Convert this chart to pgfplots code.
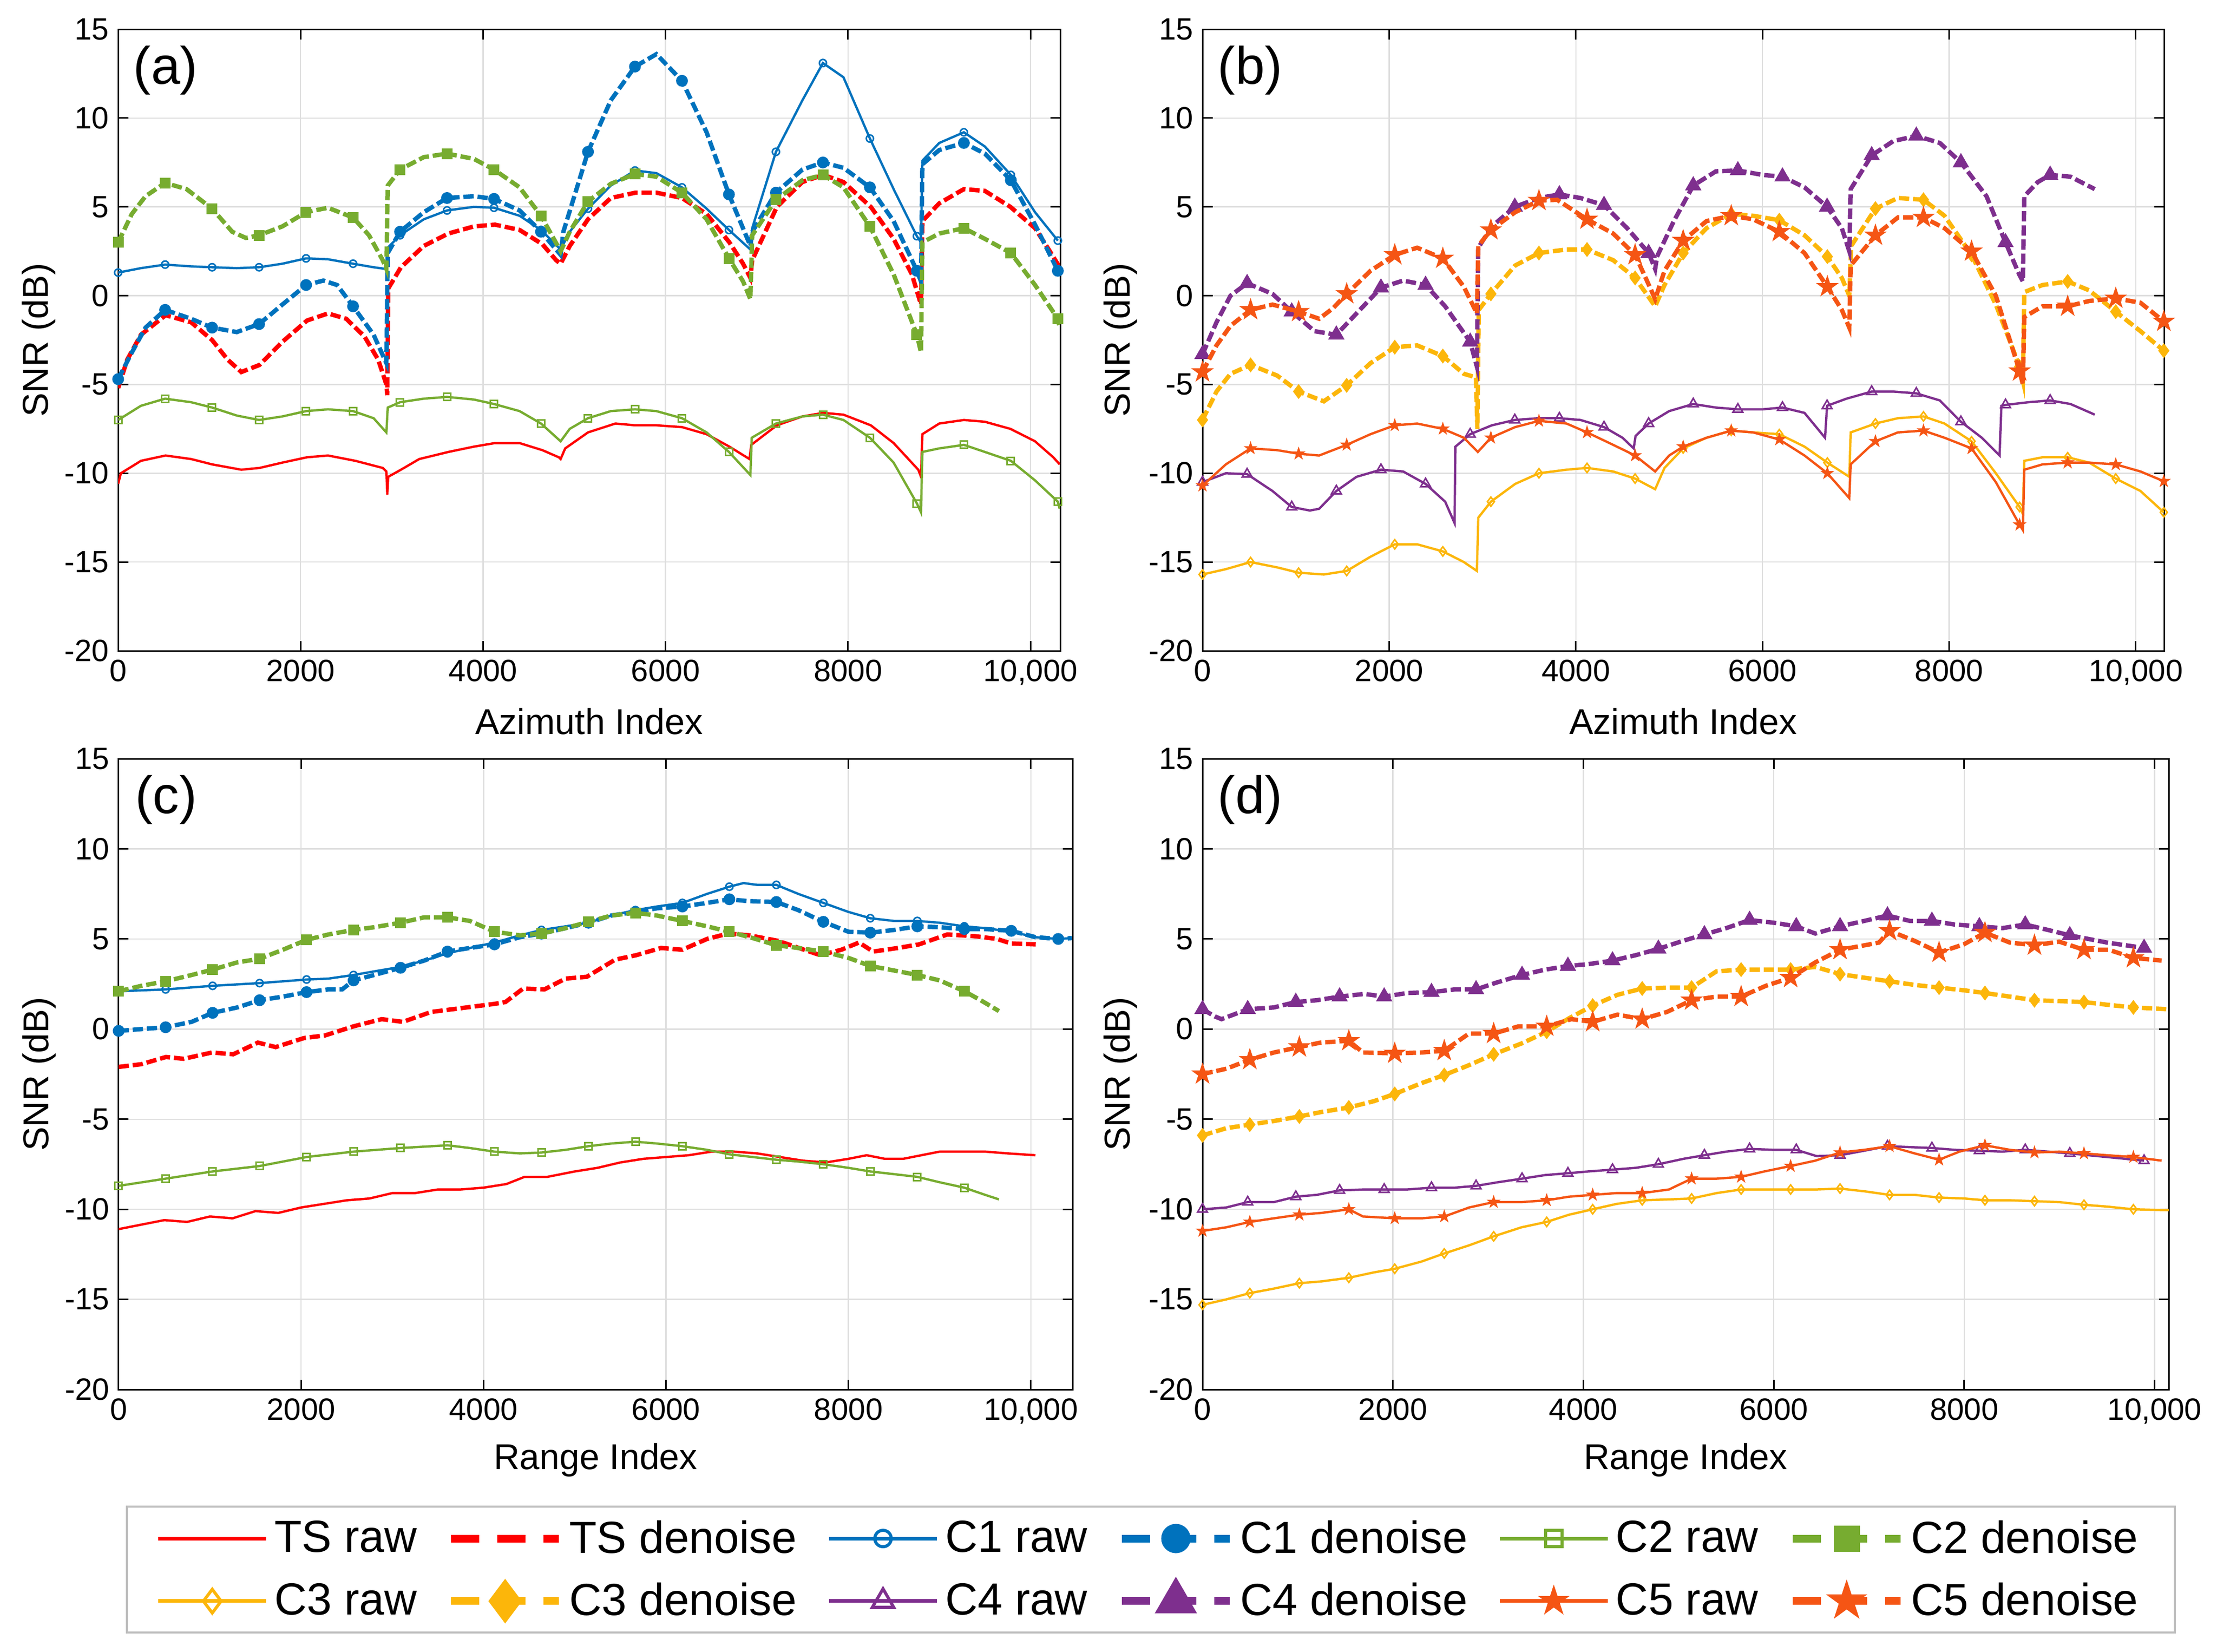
\documentclass[border=0pt]{standalone}
\usepackage{fontspec}
\setmainfont{Liberation Sans}
\usepackage{pgfplots}
\usepackage{pgfplotstable}
\pgfplotsset{compat=1.18}
\usetikzlibrary{plotmarks}

\definecolor{cTS}{RGB}{255,0,0}
\definecolor{cA}{RGB}{0,114,189}
\definecolor{cB}{RGB}{119,172,48}
\definecolor{cC}{RGB}{252,182,10}
\definecolor{cD}{RGB}{126,47,142}
\definecolor{cE}{RGB}{245,85,20}

\pgfdeclareplotmark{pstar}{%
 \pgfpathmoveto{\pgfpointpolar{90}{\pgfplotmarksize}}%
 \pgfpathlineto{\pgfpointpolar{126}{0.382*\pgfplotmarksize}}%
 \pgfpathlineto{\pgfpointpolar{162}{\pgfplotmarksize}}%
 \pgfpathlineto{\pgfpointpolar{198}{0.382*\pgfplotmarksize}}%
 \pgfpathlineto{\pgfpointpolar{234}{\pgfplotmarksize}}%
 \pgfpathlineto{\pgfpointpolar{270}{0.382*\pgfplotmarksize}}%
 \pgfpathlineto{\pgfpointpolar{306}{\pgfplotmarksize}}%
 \pgfpathlineto{\pgfpointpolar{342}{0.382*\pgfplotmarksize}}%
 \pgfpathlineto{\pgfpointpolar{18}{\pgfplotmarksize}}%
 \pgfpathlineto{\pgfpointpolar{54}{0.382*\pgfplotmarksize}}%
 \pgfpathclose
 \pgfusepathqfillstroke}

\pgfplotsset{
  panel/.style={scale only axis, xmin=0, ymin=-20, ymax=15,
    scaled x ticks=false, scaled y ticks=false,
    xtick={0,2000,4000,6000,8000,10000},
    xticklabels={0,2000,4000,6000,8000,{10,000}},
    ytick={-20,-15,-10,-5,0,5,10,15},
    yticklabels={-20,-15,-10,-5,0,5,10,15},
    grid=major, major grid style={black!13, line width=0.5pt},
    tick align=inside, major tick length=3.9pt,
    tick style={black, line width=0.6pt},
    axis line style={black, line width=0.6pt},
    tick label style={font=\fontsize{12}{14}\selectfont},
    label style={font=\fontsize{14}{16}\selectfont},
    ylabel={SNR (dB)},
    clip mode=individual},
  raw/.style={line width=0.9pt, solid},
  den/.style={line width=1.7pt, dash pattern=on 4pt off 1.5pt},
  mk/.style={only marks, restrict expr to domain={\thisrow{m}}{0.5:1.5}},
}

% ---------------- panel (a) ----------------
\pgfplotstableread{
x y
0 -10.6
30 -10.0
250 -9.3
520 -9.0
800 -9.2
1030 -9.5
1350 -9.8
1550 -9.7
1800 -9.4
2070 -9.1
2300 -9.0
2600 -9.3
2900 -9.7
2940 -9.9
2950 -11.2
2960 -10.2
3100 -9.8
3300 -9.2
3620 -8.8
3900 -8.5
4130 -8.3
4400 -8.3
4650 -8.7
4830 -9.1
4850 -9.2
4900 -8.6
5150 -7.7
5450 -7.2
5670 -7.3
5900 -7.3
6180 -7.4
6450 -7.8
6700 -8.5
6920 -9.2
6940 -8.4
7220 -7.3
7500 -6.8
7730 -6.6
7950 -6.7
8250 -7.3
8500 -8.3
8770 -9.8
8800 -10.2
8815 -7.8
9000 -7.2
9270 -7.0
9500 -7.1
9780 -7.5
10050 -8.2
10250 -9.1
10320 -9.5
}\aTSr
\pgfplotstableread{
x y
0 -5.2
100 -3.6
250 -2.2
520 -1.1
800 -1.5
1030 -2.5
1200 -3.6
1350 -4.3
1550 -3.9
1800 -2.6
2070 -1.4
2300 -1.0
2500 -1.3
2700 -2.3
2850 -3.6
2940 -5.0
2950 -5.6
2960 0.4
3100 1.6
3350 2.8
3620 3.5
3900 3.9
4130 4.0
4400 3.7
4650 2.9
4800 2.0
4850 1.8
4950 2.8
5150 4.3
5400 5.5
5670 5.8
5900 5.8
6180 5.5
6450 4.6
6700 3.0
6850 1.8
6930 1.0
6950 2.0
7220 5.0
7500 6.4
7730 6.8
7950 6.4
8250 5.0
8500 3.2
8700 1.2
8800 -0.5
8815 4.2
9000 5.2
9270 6.0
9500 5.9
9780 5.0
10050 3.8
10200 2.6
10320 1.6
}\aTSd
\pgfplotstableread{
x y m
0 1.3 1
250 1.55 0
515 1.75 1
800 1.65 0
1030 1.6 1
1300 1.55 0
1545 1.6 1
1800 1.8 0
2060 2.1 1
2300 2.05 0
2575 1.8 1
2800 1.6 0
2940 1.5 0
2955 2.7 0
3090 3.4 1
3350 4.3 0
3605 4.8 1
3900 5.0 0
4120 4.95 1
4400 4.5 0
4635 3.7 1
4850 2.6 0
4950 3.6 0
5150 4.9 1
5400 6.2 0
5665 7.05 1
5900 6.9 0
6180 6.1 1
6450 4.9 0
6695 3.7 1
6930 2.6 0
6950 3.8 0
7210 8.1 1
7500 11.0 0
7725 13.1 1
7950 12.3 0
8240 8.85 1
8500 6.0 0
8755 3.35 1
8800 3.0 0
8815 7.6 0
9000 8.6 0
9270 9.2 1
9500 8.4 0
9785 6.8 1
10050 4.7 0
10300 3.1 1
}\aAr
\pgfplotstableread{
x y m
0 -4.7 1
150 -3.2 0
300 -1.8 0
515 -0.8 1
800 -1.3 0
1030 -1.8 1
1300 -2.05 0
1545 -1.6 1
1800 -0.5 0
2060 0.6 1
2250 0.85 0
2400 0.6 0
2575 -0.6 1
2800 -2.2 0
2940 -3.8 0
2955 2.4 0
3090 3.6 1
3350 4.7 0
3605 5.5 1
3900 5.6 0
4120 5.45 1
4400 4.8 0
4635 3.6 1
4800 2.6 0
4850 2.3 0
4880 3.6 0
5150 8.1 1
5400 11.0 0
5665 12.9 1
5900 13.6 0
6180 12.1 1
6450 9.2 0
6695 5.7 1
6930 2.8 0
6950 3.6 0
7210 5.8 1
7500 7.1 0
7725 7.5 1
7950 7.2 0
8240 6.1 1
8500 4.2 0
8755 1.4 1
8800 0.8 0
8815 7.4 0
9000 8.2 0
9270 8.6 1
9500 8.0 0
9785 6.5 1
10050 4.0 0
10300 1.4 1
}\aAd
\pgfplotstableread{
x y m
0 -7.0 1
250 -6.2 0
515 -5.8 1
800 -6.0 0
1030 -6.3 1
1300 -6.75 0
1545 -7.0 1
1800 -6.8 0
2060 -6.5 1
2300 -6.4 0
2575 -6.5 1
2800 -6.9 0
2940 -7.7 0
2955 -6.3 0
3090 -6.0 1
3350 -5.8 0
3605 -5.7 1
3900 -5.85 0
4120 -6.1 1
4400 -6.5 0
4635 -7.2 1
4850 -8.2 0
4950 -7.5 0
5150 -6.9 1
5400 -6.5 0
5665 -6.4 1
5900 -6.5 0
6180 -6.9 1
6450 -7.7 0
6695 -8.8 1
6930 -10.1 0
6945 -8.0 0
7210 -7.2 1
7500 -6.8 0
7725 -6.7 1
7950 -7.0 0
8240 -8.0 1
8500 -9.4 0
8755 -11.7 1
8800 -12.2 0
8815 -8.8 0
9000 -8.6 0
9270 -8.4 1
9500 -8.8 0
9785 -9.3 1
10050 -10.4 0
10300 -11.6 1
10320 -12.0 0
}\aBr
\pgfplotstableread{
x y m
0 3.0 1
150 4.6 0
300 5.6 0
515 6.35 1
750 6.0 0
1030 4.9 1
1250 3.6 0
1400 3.25 0
1545 3.4 1
1800 3.9 0
2060 4.7 1
2300 4.95 0
2575 4.4 1
2750 3.4 0
2900 2.0 0
2940 1.5 0
2955 6.2 0
3090 7.1 1
3350 7.8 0
3605 8.0 1
3900 7.7 0
4120 7.1 1
4400 6.1 0
4635 4.5 1
4850 2.5 0
4950 3.6 0
5150 5.3 1
5400 6.3 0
5665 6.85 1
5900 6.7 0
6180 5.8 1
6450 4.3 0
6695 2.1 1
6850 0.8 0
6930 -0.2 0
6950 3.4 0
7210 5.4 1
7500 6.5 0
7725 6.8 1
7950 6.1 0
8240 3.9 1
8500 1.2 0
8755 -2.2 1
8800 -3.2 0
8815 3.0 0
9000 3.5 0
9270 3.8 1
9500 3.2 0
9785 2.4 1
10050 0.6 0
10300 -1.3 1
10320 -1.8 0
}\aBd

% ---------------- panel (b) ----------------
\pgfplotstableread{
x y m
0 -15.7 1
250 -15.4 0
515 -15.0 1
800 -15.3 0
1030 -15.6 1
1300 -15.7 0
1545 -15.5 1
1800 -14.7 0
2060 -14.0 1
2300 -14.0 0
2575 -14.4 1
2800 -15.0 0
2940 -15.5 0
2955 -12.5 0
3090 -11.6 1
3350 -10.6 0
3605 -10.0 1
3900 -9.8 0
4120 -9.7 1
4400 -9.9 0
4635 -10.3 1
4850 -10.9 0
4950 -9.7 0
5150 -8.6 1
5400 -8.0 0
5665 -7.6 1
5900 -7.7 0
6180 -7.8 1
6450 -8.5 0
6695 -9.4 1
6930 -10.2 0
6945 -7.7 0
7210 -7.2 1
7450 -6.9 0
7725 -6.8 1
7950 -7.2 0
8240 -8.2 1
8500 -10.0 0
8755 -11.9 1
8790 -12.3 0
8805 -9.3 0
9000 -9.1 0
9270 -9.1 1
9500 -9.4 0
9785 -10.3 1
10050 -11.0 0
10300 -12.2 1
}\bCr
\pgfplotstableread{
x y m
0 -7.0 1
150 -5.4 0
300 -4.4 0
515 -3.9 1
800 -4.5 0
1030 -5.4 1
1300 -5.95 0
1545 -5.05 1
1800 -3.8 0
2060 -2.9 1
2300 -2.8 0
2575 -3.4 1
2800 -4.4 0
2930 -4.6 0
2945 -7.5 0
2960 -0.8 0
3090 0.1 1
3350 1.7 0
3605 2.4 1
3900 2.6 0
4120 2.6 1
4400 2.0 0
4635 1.0 1
4850 -0.6 0
4950 0.6 0
5150 2.4 1
5400 3.8 0
5665 4.6 1
5900 4.5 0
6180 4.25 1
6450 3.4 0
6695 2.2 1
6850 1.0 0
6930 0.0 0
6950 2.8 0
7210 4.9 1
7450 5.5 0
7725 5.4 1
7950 4.5 0
8240 2.3 1
8500 -0.5 0
8755 -4.0 1
8790 -4.8 0
8805 0.2 0
9000 0.6 0
9270 0.8 1
9500 0.3 0
9785 -0.9 1
10050 -2.0 0
10300 -3.1 1
}\bCd
\pgfplotstableread{
x y m
0 -10.5 1
250 -10.0 0
478 -10.05 1
750 -11.0 0
956 -11.9 1
1150 -12.1 0
1250 -12.0 0
1434 -11.0 1
1650 -10.2 0
1912 -9.8 1
2150 -9.9 0
2390 -10.6 1
2600 -11.6 0
2700 -12.8 0
2710 -8.5 0
2868 -7.8 1
3100 -7.3 0
3346 -7.0 1
3600 -6.9 0
3824 -6.9 1
4050 -7.0 0
4302 -7.4 1
4500 -8.0 0
4620 -8.6 0
4640 -7.9 0
4780 -7.2 1
5000 -6.5 0
5258 -6.1 1
5500 -6.3 0
5736 -6.4 1
6000 -6.4 0
6214 -6.3 1
6450 -6.6 0
6670 -8.0 0
6692 -6.2 1
6900 -5.8 0
7170 -5.4 1
7400 -5.4 0
7648 -5.5 1
7900 -5.9 0
8126 -7.1 1
8350 -8.0 0
8540 -9.0 0
8560 -6.2 0
8604 -6.15 1
8850 -6.0 0
9082 -5.9 1
9300 -6.1 0
9560 -6.7 0
}\bDr
\pgfplotstableread{
x y m
0 -3.3 1
150 -1.5 0
300 0.0 0
478 0.7 1
750 0.1 0
956 -0.9 1
1200 -2.0 0
1434 -2.2 1
1650 -1.0 0
1912 0.45 1
2150 0.85 0
2390 0.6 1
2600 -0.6 0
2868 -2.6 1
2940 -4.0 0
2955 2.7 0
3100 3.9 0
3346 5.0 1
3600 5.5 0
3824 5.7 1
4050 5.5 0
4302 5.1 1
4550 3.8 0
4780 2.4 1
4850 1.5 0
4870 2.2 0
5050 4.2 0
5258 6.2 1
5500 7.0 0
5736 7.05 1
6000 6.8 0
6214 6.7 1
6450 6.1 0
6692 5.0 1
6850 3.8 0
6930 2.5 0
6945 6.0 0
7170 7.9 1
7400 8.7 0
7648 9.0 1
7900 8.6 0
8126 7.5 1
8400 5.6 0
8604 3.0 1
8750 1.2 0
8790 0.8 0
8805 5.6 0
8950 6.4 0
9082 6.8 1
9300 6.7 0
9560 6.0 0
}\bDd
\pgfplotstableread{
x y m
0 -10.7 1
250 -9.5 0
515 -8.6 1
800 -8.7 0
1030 -8.9 1
1250 -9.0 0
1545 -8.4 1
1800 -7.8 0
2060 -7.3 1
2300 -7.2 0
2575 -7.5 1
2800 -8.0 0
2950 -8.8 0
3090 -8.0 1
3350 -7.4 0
3605 -7.05 1
3900 -7.2 0
4120 -7.7 1
4400 -8.4 0
4635 -9.0 1
4850 -9.9 0
5000 -9.0 0
5150 -8.5 1
5400 -8.0 0
5665 -7.6 1
5900 -7.7 0
6180 -8.1 1
6450 -9.0 0
6695 -10.0 1
6930 -11.4 0
6945 -9.5 0
7210 -8.2 1
7450 -7.7 0
7725 -7.6 1
7950 -8.0 0
8240 -8.6 1
8500 -10.5 0
8755 -12.9 1
8790 -13.2 0
8805 -9.8 0
9000 -9.5 0
9270 -9.4 1
9500 -9.4 0
9785 -9.5 1
10050 -9.9 0
10300 -10.45 1
}\bEr
\pgfplotstableread{
x y m
0 -4.3 1
150 -2.8 0
300 -1.7 0
515 -0.8 1
750 -0.5 0
1030 -0.9 1
1250 -1.3 0
1400 -0.7 0
1545 0.1 1
1800 1.4 0
2060 2.3 1
2300 2.7 0
2575 2.1 1
2800 0.5 0
2940 -1.0 0
2955 2.8 0
3090 3.7 1
3350 4.7 0
3605 5.35 1
3800 5.4 0
4120 4.3 1
4400 3.5 0
4635 2.3 1
4800 0.4 0
4850 -0.2 0
4950 1.4 0
5150 3.1 1
5400 4.2 0
5665 4.5 1
5900 4.3 0
6180 3.6 1
6450 2.4 0
6695 0.5 1
6850 -0.8 0
6930 -1.8 0
6945 1.7 0
7210 3.4 1
7450 4.4 0
7725 4.4 1
7950 3.8 0
8240 2.5 1
8500 0.0 0
8755 -4.25 1
8790 -5.0 0
8805 -1.2 0
9000 -0.6 0
9270 -0.6 1
9500 -0.3 0
9785 -0.15 1
10050 -0.4 0
10300 -1.45 1
}\bEd

% ---------------- panel (c) ----------------
\pgfplotstableread{
x y
0 -11.1
200 -10.9
500 -10.6
750 -10.7
1000 -10.4
1250 -10.5
1500 -10.1
1750 -10.2
2000 -9.9
2250 -9.7
2500 -9.5
2750 -9.4
3000 -9.1
3250 -9.1
3500 -8.9
3750 -8.9
4000 -8.8
4250 -8.6
4450 -8.2
4700 -8.2
5000 -7.9
5250 -7.7
5500 -7.4
5750 -7.2
6000 -7.1
6250 -7.0
6500 -6.8
6750 -6.8
7000 -6.9
7250 -7.1
7500 -7.3
7750 -7.4
8000 -7.2
8200 -7.0
8400 -7.2
8600 -7.2
8800 -7.0
9000 -6.8
9250 -6.8
9500 -6.8
9750 -6.9
10050 -7.0
}\cTSr
\pgfplotstableread{
x y
0 -2.1
248 -1.95
519 -1.55
713 -1.65
1023 -1.3
1256 -1.4
1527 -0.75
1721 -1.0
2031 -0.5
2264 -0.35
2574 0.15
2884 0.55
3116 0.4
3426 0.95
3814 1.2
4124 1.4
4240 1.5
4434 2.25
4667 2.2
4899 2.8
5132 2.9
5442 3.85
5674 4.1
5946 4.5
6178 4.4
6450 5.0
6682 5.3
6915 5.2
7225 4.9
7457 4.5
7690 4.1
7922 4.4
8116 4.8
8271 4.3
8543 4.5
8775 4.7
9085 5.25
9395 5.15
9628 5.0
9783 4.75
10054 4.7
}\cTSd
\pgfplotstableread{
x y m
0 2.1 1
515 2.2 1
1030 2.4 1
1545 2.55 1
2060 2.75 1
2300 2.8 0
2575 3.0 1
2800 3.2 0
3090 3.45 1
3350 3.8 0
3605 4.2 1
3850 4.5 0
4120 4.8 1
4400 5.2 0
4635 5.5 1
4900 5.7 0
5150 5.9 1
5400 6.3 0
5665 6.6 1
5900 6.8 0
6180 7.0 1
6450 7.5 0
6695 7.9 1
6850 8.1 0
7000 8.0 0
7210 8.0 1
7450 7.5 0
7725 7.0 1
8000 6.5 0
8240 6.15 1
8500 6.0 0
8755 6.0 1
9000 5.9 0
9270 5.7 1
9500 5.6 0
9785 5.4 1
10050 5.1 0
10300 5.0 1
10450 5.05 0
}\cAr
\pgfplotstableread{
x y m
0 -0.1 1
250 0.0 0
515 0.1 1
800 0.4 0
1030 0.9 1
1300 1.2 0
1545 1.6 1
1800 1.8 0
2060 2.05 1
2300 2.2 0
2450 2.2 0
2575 2.7 1
2800 3.0 0
3090 3.4 1
3350 3.8 0
3605 4.3 1
3850 4.5 0
4120 4.7 1
4400 5.1 0
4635 5.3 1
4900 5.6 0
5150 5.9 1
5400 6.3 0
5665 6.5 1
5900 6.7 0
6180 6.8 1
6450 7.0 0
6695 7.2 1
6900 7.1 0
7210 7.05 1
7450 6.6 0
7725 5.95 1
8000 5.4 0
8240 5.35 1
8500 5.5 0
8755 5.7 1
9000 5.65 0
9270 5.55 1
9500 5.55 0
9785 5.45 1
10050 5.1 0
10300 5.0 1
10450 5.05 0
}\cAd
\pgfplotstableread{
x y m
0 -8.7 1
515 -8.3 1
1030 -7.9 1
1545 -7.6 1
2060 -7.1 1
2575 -6.8 1
3090 -6.6 1
3605 -6.45 1
3850 -6.6 0
4120 -6.8 1
4400 -6.9 0
4635 -6.85 1
4900 -6.7 0
5150 -6.5 1
5400 -6.35 0
5665 -6.25 1
5900 -6.35 0
6180 -6.5 1
6450 -6.7 0
6695 -6.95 1
6950 -7.1 0
7210 -7.25 1
7450 -7.35 0
7725 -7.5 1
8000 -7.7 0
8240 -7.9 1
8500 -8.05 0
8755 -8.2 1
9000 -8.5 0
9270 -8.8 1
9500 -9.2 0
9650 -9.45 0
}\cBr
\pgfplotstableread{
x y m
0 2.1 1
250 2.4 0
515 2.65 1
800 3.0 0
1030 3.3 1
1300 3.7 0
1545 3.9 1
1800 4.4 0
2060 4.95 1
2300 5.25 0
2575 5.5 1
2800 5.65 0
3090 5.9 1
3350 6.2 0
3605 6.2 1
3850 6.0 0
4120 5.4 1
4400 5.2 0
4635 5.3 1
4900 5.6 0
5150 5.95 1
5400 6.3 0
5665 6.45 1
5900 6.3 0
6180 6.0 1
6450 5.7 0
6695 5.4 1
6950 5.05 0
7210 4.65 1
7450 4.5 0
7725 4.3 1
8000 3.95 0
8240 3.5 1
8500 3.25 0
8755 3.0 1
9000 2.7 0
9270 2.1 1
9450 1.6 0
9650 1.0 0
}\cBd

% ---------------- panel (d) ----------------
\pgfplotstableread{
x y m
0 -15.3 1
250 -15.0 0
497 -14.65 1
750 -14.4 0
1017 -14.1 1
1250 -14.0 0
1537 -13.8 1
1800 -13.5 0
2019 -13.3 1
2300 -12.9 0
2539 -12.45 1
2800 -12.0 0
3058 -11.5 1
3350 -11.0 0
3615 -10.7 1
3850 -10.3 0
4098 -10.0 1
4350 -9.7 0
4618 -9.5 1
4900 -9.45 0
5137 -9.4 1
5400 -9.1 0
5657 -8.9 1
5900 -8.9 0
6177 -8.9 1
6450 -8.9 0
6696 -8.85 1
6950 -9.0 0
7216 -9.2 1
7480 -9.2 0
7736 -9.35 1
8000 -9.4 0
8218 -9.5 1
8480 -9.5 0
8738 -9.55 1
9000 -9.6 0
9258 -9.75 1
9500 -9.85 0
9777 -10.0 1
10148 -10.05 0
}\dCr
\pgfplotstableread{
x y m
0 -5.9 1
250 -5.5 0
497 -5.3 1
750 -5.1 0
1017 -4.85 1
1250 -4.6 0
1537 -4.35 1
1800 -4.0 0
2019 -3.6 1
2300 -3.0 0
2539 -2.55 1
2800 -2.0 0
3058 -1.4 1
3350 -0.8 0
3615 -0.15 1
3850 0.6 0
4098 1.3 1
4358 1.9 0
4618 2.25 1
4900 2.3 0
5137 2.3 1
5397 3.2 0
5657 3.3 1
5900 3.3 0
6177 3.3 1
6436 3.45 0
6696 3.05 1
6950 2.85 0
7216 2.65 1
7480 2.45 0
7736 2.3 1
8000 2.15 0
8218 2.0 1
8480 1.8 0
8738 1.6 1
9000 1.55 0
9258 1.5 1
9500 1.35 0
9777 1.2 1
10148 1.1 0
}\dCd
\pgfplotstableread{
x y m
0 -10.0 1
250 -9.9 0
475 -9.6 1
750 -9.6 0
980 -9.3 1
1200 -9.2 0
1440 -8.95 1
1700 -8.9 0
1908 -8.9 1
2150 -8.9 0
2405 -8.8 1
2650 -8.8 0
2873 -8.7 1
3100 -8.5 0
3356 -8.3 1
3600 -8.1 0
3838 -8.0 1
4050 -7.9 0
4306 -7.8 1
4550 -7.7 0
4788 -7.5 1
5050 -7.2 0
5271 -7.0 1
5500 -6.8 0
5746 -6.65 1
6000 -6.7 0
6236 -6.7 1
6450 -7.05 0
6696 -7.0 1
6950 -6.75 0
7194 -6.5 1
7430 -6.55 0
7661 -6.6 1
7900 -6.7 0
8159 -6.75 1
8400 -6.8 0
8641 -6.7 1
8880 -6.8 0
9109 -6.9 1
9500 -7.1 0
9889 -7.3 1
}\dDr
\pgfplotstableread{
x y m
0 1.1 1
130 0.7 0
200 0.55 0
475 1.1 1
750 1.2 0
980 1.5 1
1200 1.6 0
1440 1.8 1
1700 1.95 0
1908 1.8 1
2150 2.0 0
2405 2.05 1
2650 2.2 0
2873 2.2 1
3100 2.6 0
3356 3.0 1
3600 3.3 0
3838 3.5 1
4050 3.6 0
4306 3.8 1
4550 4.1 0
4788 4.45 1
5050 4.9 0
5271 5.25 1
5500 5.6 0
5746 6.05 1
6000 5.9 0
6236 5.7 1
6436 5.3 0
6696 5.7 1
6950 6.0 0
7194 6.3 1
7430 6.0 0
7661 6.0 1
7900 5.8 0
8159 5.7 1
8400 5.6 0
8641 5.8 1
8880 5.5 0
9109 5.2 1
9500 4.8 0
9889 4.5 1
}\dDd
\pgfplotstableread{
x y m
0 -11.2 1
250 -11.0 0
497 -10.7 1
750 -10.5 0
1017 -10.3 1
1250 -10.2 0
1537 -10.0 1
1685 -10.4 0
2019 -10.5 1
2300 -10.5 0
2539 -10.4 1
2800 -9.9 0
3058 -9.6 1
3350 -9.6 0
3615 -9.5 1
3850 -9.3 0
4098 -9.2 1
4350 -9.1 0
4618 -9.1 1
4900 -8.9 0
5137 -8.3 1
5400 -8.3 0
5657 -8.2 1
5900 -7.9 0
6177 -7.6 1
6436 -7.3 0
6696 -6.85 1
6950 -6.7 0
7216 -6.5 1
7480 -6.9 0
7736 -7.25 1
7950 -6.8 0
8218 -6.45 1
8480 -6.7 0
8738 -6.85 1
9000 -6.8 0
9258 -6.9 1
9500 -7.0 0
9777 -7.1 1
10074 -7.3 0
}\dEr
\pgfplotstableread{
x y m
0 -2.5 1
250 -2.2 0
497 -1.7 1
750 -1.3 0
1017 -1.0 1
1240 -0.75 0
1537 -0.65 1
1685 -1.3 0
2019 -1.35 1
2300 -1.3 0
2539 -1.2 1
2799 -0.25 0
3058 -0.25 1
3318 0.15 0
3615 0.15 1
3875 0.55 0
4098 0.4 1
4358 0.8 0
4618 0.55 1
4878 0.95 0
5137 1.6 1
5397 1.8 0
5657 1.8 1
5917 2.4 0
6177 2.85 1
6436 3.7 0
6696 4.4 1
6956 4.65 0
7105 4.8 0
7216 5.45 1
7476 4.9 0
7736 4.25 1
7996 4.7 0
8218 5.35 1
8478 4.8 0
8738 4.65 1
8998 4.85 0
9258 4.4 1
9517 4.4 0
9777 3.95 1
10074 3.8 0
}\dEd

\begin{document}
\begin{tikzpicture}
\useasboundingbox (0,0) rectangle (863.2pt,-643.2pt);

% (a)
\begin{axis}[panel, at={(46pt,-253.4pt)}, anchor=south west, width=366.8pt, height=242pt,
  xmax=10326, xlabel={Azimuth Index},
  xlabel style={at={(axis description cs:0.5,-0.1132)}, anchor=center},
  ylabel style={at={(axis description cs:-0.0845,0.5)}, anchor=center}]
\addplot[cTS, raw] table[x=x,y=y]{\aTSr};
\addplot[cTS, den] table[x=x,y=y]{\aTSd};
\addplot[cA, raw] table[x=x,y=y]{\aAr};
\addplot[cA, mk, mark=o, mark size=1.4pt, mark options={line width=0.6pt}] table[x=x,y=y]{\aAr};
\addplot[cA, den] table[x=x,y=y]{\aAd};
\addplot[cA, mk, mark=*, mark size=2.1pt] table[x=x,y=y]{\aAd};
\addplot[cB, raw] table[x=x,y=y]{\aBr};
\addplot[cB, mk, mark=square, mark size=1.4pt, mark options={line width=0.6pt}] table[x=x,y=y]{\aBr};
\addplot[cB, den] table[x=x,y=y]{\aBd};
\addplot[cB, mk, mark=square*, mark size=1.9pt] table[x=x,y=y]{\aBd};
\node[font=\fontsize{20.5}{24}\selectfont, xshift=18.5pt, yshift=-16pt] at (rel axis cs:0,1) {(a)};
\end{axis}

% (b)
\begin{axis}[panel, at={(468.2pt,-253.4pt)}, anchor=south west, width=374.4pt, height=242pt,
  xmax=10303, xlabel={Azimuth Index},
  xlabel style={at={(axis description cs:0.5,-0.1132)}, anchor=center},
  ylabel style={at={(axis description cs:-0.085,0.5)}, anchor=center}]
\addplot[cC, raw] table[x=x,y=y]{\bCr};
\addplot[cC, mk, mark=diamond, mark size=1.8pt, mark options={line width=0.6pt}] table[x=x,y=y]{\bCr};
\addplot[cC, den] table[x=x,y=y]{\bCd};
\addplot[cC, mk, mark=diamond*, mark size=2.6pt] table[x=x,y=y]{\bCd};
\addplot[cD, raw] table[x=x,y=y]{\bDr};
\addplot[cD, mk, mark=triangle, mark size=2.2pt, mark options={line width=0.6pt}] table[x=x,y=y]{\bDr};
\addplot[cD, den] table[x=x,y=y]{\bDd};
\addplot[cD, mk, mark=triangle*, mark size=3.3pt] table[x=x,y=y]{\bDd};
\addplot[cE, raw] table[x=x,y=y]{\bEr};
\addplot[cE, mk, mark=pstar, mark size=2.2pt, mark options={line width=0.4pt}] table[x=x,y=y]{\bEr};
\addplot[cE, den] table[x=x,y=y]{\bEd};
\addplot[cE, mk, mark=pstar, mark size=4.0pt, mark options={line width=0.4pt}] table[x=x,y=y]{\bEd};
\node[font=\fontsize{20.5}{24}\selectfont, xshift=18.5pt, yshift=-16pt] at (rel axis cs:0,1) {(b)};
\end{axis}

% (c)
\begin{axis}[panel, at={(46.2pt,-541pt)}, anchor=south west, width=371.4pt, height=245.6pt,
  xmax=10457, xlabel={Range Index},
  xlabel style={at={(axis description cs:0.5,-0.1116)}, anchor=center},
  ylabel style={at={(axis description cs:-0.0835,0.5)}, anchor=center}]
\addplot[cTS, raw] table[x=x,y=y]{\cTSr};
\addplot[cTS, den] table[x=x,y=y]{\cTSd};
\addplot[cA, raw] table[x=x,y=y]{\cAr};
\addplot[cA, mk, mark=o, mark size=1.4pt, mark options={line width=0.6pt}] table[x=x,y=y]{\cAr};
\addplot[cA, den] table[x=x,y=y]{\cAd};
\addplot[cA, mk, mark=*, mark size=2.1pt] table[x=x,y=y]{\cAd};
\addplot[cB, raw] table[x=x,y=y]{\cBr};
\addplot[cB, mk, mark=square, mark size=1.4pt, mark options={line width=0.6pt}] table[x=x,y=y]{\cBr};
\addplot[cB, den] table[x=x,y=y]{\cBd};
\addplot[cB, mk, mark=square*, mark size=1.9pt] table[x=x,y=y]{\cBd};
\node[font=\fontsize{20.5}{24}\selectfont, xshift=18.5pt, yshift=-16pt] at (rel axis cs:0,1) {(c)};
\end{axis}

% (d)
\begin{axis}[panel, at={(468.2pt,-541pt)}, anchor=south west, width=376.2pt, height=245.6pt,
  xmax=10148, xlabel={Range Index},
  xlabel style={at={(axis description cs:0.5,-0.1116)}, anchor=center},
  ylabel style={at={(axis description cs:-0.085,0.5)}, anchor=center}]
\addplot[cC, raw] table[x=x,y=y]{\dCr};
\addplot[cC, mk, mark=diamond, mark size=1.8pt, mark options={line width=0.6pt}] table[x=x,y=y]{\dCr};
\addplot[cC, den] table[x=x,y=y]{\dCd};
\addplot[cC, mk, mark=diamond*, mark size=2.6pt] table[x=x,y=y]{\dCd};
\addplot[cD, raw] table[x=x,y=y]{\dDr};
\addplot[cD, mk, mark=triangle, mark size=2.2pt, mark options={line width=0.6pt}] table[x=x,y=y]{\dDr};
\addplot[cD, den] table[x=x,y=y]{\dDd};
\addplot[cD, mk, mark=triangle*, mark size=3.3pt] table[x=x,y=y]{\dDd};
\addplot[cE, raw] table[x=x,y=y]{\dEr};
\addplot[cE, mk, mark=pstar, mark size=2.2pt, mark options={line width=0.4pt}] table[x=x,y=y]{\dEr};
\addplot[cE, den] table[x=x,y=y]{\dEd};
\addplot[cE, mk, mark=pstar, mark size=4.0pt, mark options={line width=0.4pt}] table[x=x,y=y]{\dEd};
\node[font=\fontsize{20.5}{24}\selectfont, xshift=18.5pt, yshift=-16pt] at (rel axis cs:0,1) {(d)};
\end{axis}

% legend frame
\draw[black!25, line width=0.8pt, fill=white] (49.4pt,-586.6pt) rectangle (846.8pt,-635.6pt);

% legend
\begin{axis}[at={(448pt,-611.2pt)}, anchor=center, scale only axis, width=1pt, height=1pt,
  hide axis, xmin=0, xmax=1, ymin=0, ymax=1,
  legend columns=6, legend cell align=left,
  legend image code/.code={\draw[mark repeat=2,mark phase=2,#1] plot coordinates {(0pt,0pt) (21pt,0pt) (42pt,0pt)};},
  legend style={at={(0.5,0.5)}, anchor=center, draw=none, fill=none,
    font=\fontsize{17.5}{21}\selectfont, inner xsep=10pt, inner ysep=0pt,
    nodes={inner xsep=2.5pt, inner ysep=1.5pt},
    /tikz/every even column/.append style={column sep=9.4pt}, row sep=7.2pt},
  legend entries={TS raw, TS denoise, C1 raw, C1 denoise, C2 raw, C2 denoise,
                  C3 raw, C3 denoise, C4 raw, C4 denoise, C5 raw, C5 denoise}]
\addlegendimage{cTS, line width=1.4pt}
\addlegendimage{cTS, line width=3pt, dash pattern=on 11pt off 7pt}
\addlegendimage{cA, line width=1.4pt, mark=o, mark size=3.2pt, mark options={solid, line width=1.2pt}}
\addlegendimage{cA, line width=3pt, dash pattern=on 11pt off 7pt, mark=*, mark size=4.2pt, mark options={solid}}
\addlegendimage{cB, line width=1.4pt, mark=square, mark size=3.2pt, mark options={solid, line width=1.2pt}}
\addlegendimage{cB, line width=3pt, dash pattern=on 11pt off 7pt, mark=square*, mark size=3.6pt, mark options={solid}}
\addlegendimage{cC, line width=1.4pt, mark=diamond, mark size=4.6pt, mark options={solid, line width=1.2pt}}
\addlegendimage{cC, line width=3pt, dash pattern=on 11pt off 7pt, mark=diamond*, mark size=6.2pt, mark options={solid}}
\addlegendimage{cD, line width=1.4pt, mark=triangle, mark size=4.8pt, mark options={solid, line width=1.2pt}}
\addlegendimage{cD, line width=3pt, dash pattern=on 11pt off 7pt, mark=triangle*, mark size=6.5pt, mark options={solid}}
\addlegendimage{cE, line width=1.4pt, mark=pstar, mark size=5.5pt, mark options={solid, line width=0.6pt}}
\addlegendimage{cE, line width=3pt, dash pattern=on 11pt off 7pt, mark=pstar, mark size=7.5pt, mark options={solid, line width=0.6pt}}
\end{axis}
\end{tikzpicture}
\end{document}
